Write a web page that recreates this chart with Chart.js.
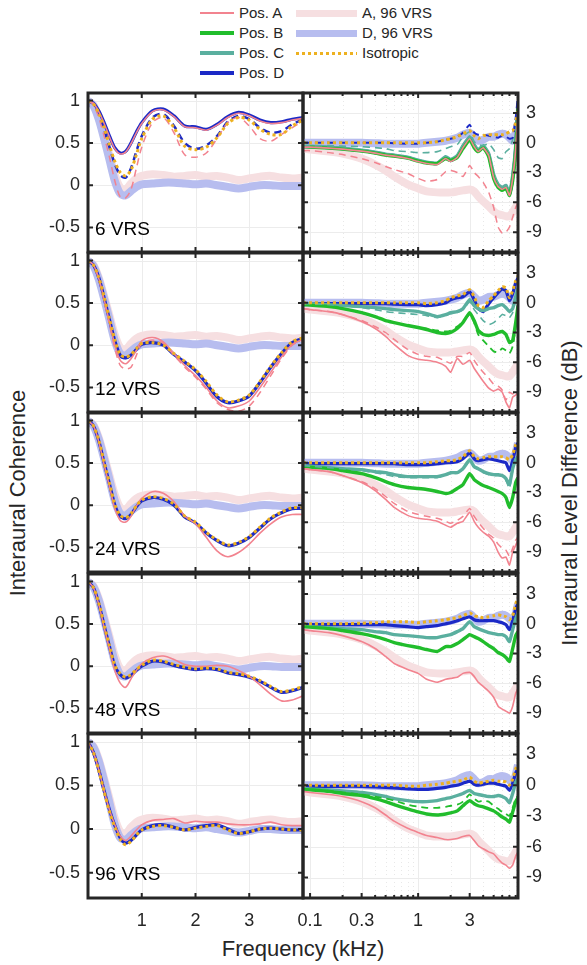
<!DOCTYPE html>
<html>
<head>
<meta charset="utf-8">
<script src="https://cdn.jsdelivr.net/npm/chart.js@4.4.1/dist/chart.umd.min.js"></script>
<style>
  body { margin: 0; width: 587px; height: 965px; background: #fff; position: relative; overflow: hidden;
         font-family: "Liberation Sans", Arial, sans-serif; color: #262626; }
  canvas { position: absolute; }
  .lg { position: absolute; font-size: 15px; line-height: 18px; white-space: nowrap; }
  .sw { position: absolute; }
  .title { position: absolute; font-size: 22px; white-space: nowrap; }
</style>
</head>
<body>
<div id="legend"></div>
<div class="title" id="xTitle">Frequency (kHz)</div>
<div class="title" id="yLeftTitle">Interaural Coherence</div>
<div class="title" id="yRightTitle">Interaural Level Difference (dB)</div>
<script>
// ---- data ----
const rowLabels = ["6 VRS", "12 VRS", "24 VRS", "48 VRS", "96 VRS"];

// coherence panels (left), frequency in kHz
const icFreq = [0, 0.1, 0.2, 0.3, 0.4, 0.5, 0.6, 0.7, 0.8, 0.9, 1.0, 1.2, 1.4, 1.6, 1.8, 2.0, 2.2, 2.4, 2.6, 2.8, 3.0, 3.2, 3.4, 3.6, 3.8, 4.0];
const icTicksX = [1, 2, 3];
const icTicksY = [-0.5, 0, 0.5, 1];

const icA96 = [1.0, 0.95, 0.80, 0.58, 0.35, 0.12, -0.03, -0.05, 0.02, 0.08, 0.11, 0.13, 0.12, 0.10, 0.11, 0.12, 0.10, 0.11, 0.09, 0.06, 0.08, 0.10, 0.11, 0.09, 0.08, 0.09];
const icD96 = [1.0, 0.94, 0.78, 0.55, 0.30, 0.05, -0.10, -0.12, -0.07, -0.02, 0.01, 0.02, 0.03, 0.03, 0.02, 0.01, 0.02, 0.00, -0.02, -0.04, -0.02, 0.00, 0.00, -0.01, -0.01, -0.01];

const icPosD = [
  [1.0, 0.97, 0.88, 0.74, 0.58, 0.44, 0.38, 0.40, 0.50, 0.63, 0.74, 0.88, 0.90, 0.82, 0.70, 0.69, 0.66, 0.72, 0.81, 0.86, 0.83, 0.77, 0.74, 0.75, 0.78, 0.80],
  [1.0, 0.95, 0.80, 0.56, 0.30, 0.05, -0.12, -0.15, -0.12, -0.05, 0.01, 0.03, 0.0, -0.11, -0.20, -0.30, -0.45, -0.61, -0.68, -0.66, -0.60, -0.44, -0.26, -0.10, 0.03, 0.08],
  [1.0, 0.94, 0.76, 0.50, 0.25, 0.0, -0.13, -0.16, -0.11, -0.02, 0.05, 0.09, 0.07, 0.0, -0.14, -0.21, -0.33, -0.42, -0.48, -0.45, -0.38, -0.27, -0.16, -0.09, -0.04, -0.04],
  [1.0, 0.93, 0.74, 0.48, 0.23, 0.0, -0.10, -0.14, -0.11, -0.05, 0.0, 0.06, 0.05, 0.01, -0.02, -0.04, -0.03, -0.04, -0.08, -0.10, -0.13, -0.18, -0.25, -0.31, -0.29, -0.25],
  [1.0, 0.88, 0.68, 0.44, 0.22, 0.04, -0.10, -0.16, -0.13, -0.07, -0.01, 0.04, 0.05, 0.02, -0.01, 0.02, 0.04, 0.05, 0.0, -0.05, -0.03, 0.0, 0.01, 0.0, -0.01, -0.01]
];
const icPosA = [
  [1.0, 0.97, 0.87, 0.73, 0.57, 0.43, 0.37, 0.39, 0.49, 0.62, 0.73, 0.87, 0.89, 0.81, 0.69, 0.68, 0.65, 0.71, 0.80, 0.85, 0.82, 0.76, 0.73, 0.74, 0.77, 0.79],
  [1.0, 0.95, 0.79, 0.54, 0.27, 0.0, -0.18, -0.22, -0.16, -0.06, 0.05, 0.09, 0.04, -0.10, -0.24, -0.36, -0.50, -0.66, -0.74, -0.72, -0.66, -0.50, -0.32, -0.14, 0.01, 0.07],
  [1.0, 0.94, 0.75, 0.48, 0.22, -0.04, -0.18, -0.20, -0.13, -0.01, 0.08, 0.16, 0.14, 0.04, -0.13, -0.22, -0.38, -0.54, -0.61, -0.56, -0.46, -0.33, -0.22, -0.14, -0.11, -0.11],
  [1.0, 0.93, 0.73, 0.46, 0.20, -0.05, -0.20, -0.25, -0.15, -0.05, 0.03, 0.10, 0.12, 0.08, 0.02, 0.0, 0.0, 0.01, 0.0, -0.05, -0.12, -0.22, -0.33, -0.41, -0.40, -0.35],
  [1.0, 0.88, 0.68, 0.44, 0.22, 0.05, -0.08, -0.13, -0.08, -0.01, 0.05, 0.10, 0.11, 0.12, 0.07, 0.09, 0.08, 0.08, 0.06, 0.05, 0.05, 0.06, 0.08, 0.05, 0.04, 0.04]
];
const icIso = [
  [1.0, 0.96, 0.85, 0.68, 0.47, 0.28, 0.15, 0.11, 0.18, 0.36, 0.55, 0.78, 0.82, 0.68, 0.46, 0.42, 0.45, 0.56, 0.73, 0.80, 0.77, 0.66, 0.60, 0.60, 0.70, 0.77],
  [1.0, 0.95, 0.80, 0.57, 0.31, 0.06, -0.11, -0.14, -0.11, -0.04, 0.02, 0.03, 0.0, -0.10, -0.19, -0.29, -0.43, -0.59, -0.67, -0.65, -0.59, -0.43, -0.25, -0.09, 0.04, 0.09],
  [1.0, 0.94, 0.77, 0.51, 0.26, 0.01, -0.12, -0.15, -0.10, -0.01, 0.06, 0.10, 0.08, 0.01, -0.13, -0.20, -0.32, -0.41, -0.47, -0.44, -0.37, -0.26, -0.15, -0.08, -0.03, -0.03],
  [1.0, 0.93, 0.75, 0.49, 0.24, 0.01, -0.09, -0.13, -0.10, -0.04, 0.01, 0.07, 0.06, 0.02, -0.01, -0.03, -0.02, -0.03, -0.07, -0.09, -0.12, -0.17, -0.24, -0.30, -0.28, -0.24],
  [1.0, 0.88, 0.67, 0.43, 0.20, 0.02, -0.12, -0.18, -0.14, -0.07, -0.01, 0.03, 0.04, 0.02, -0.01, 0.01, 0.03, 0.04, -0.01, -0.05, -0.03, 0.0, 0.01, 0.0, -0.01, -0.01]
];
const icPosADash = [
  [1.0, 0.95, 0.80, 0.58, 0.33, 0.05, -0.14, -0.15, -0.05, 0.20, 0.45, 0.74, 0.80, 0.62, 0.36, 0.33, 0.38, 0.55, 0.74, 0.80, 0.70, 0.55, 0.52, 0.60, 0.68, 0.76],
  [1.0, 0.95, 0.78, 0.52, 0.24, -0.04, -0.24, -0.28, -0.26, -0.12, 0.02, 0.06, 0.02, -0.12, -0.26, -0.38, -0.52, -0.68, -0.76, -0.78, -0.72, -0.56, -0.36, -0.16, 0.0, 0.06],
  null, null, null
];
const icPosDDash = [
  [1.0, 0.96, 0.84, 0.66, 0.45, 0.25, 0.12, 0.09, 0.20, 0.40, 0.58, 0.80, 0.84, 0.70, 0.50, 0.43, 0.47, 0.58, 0.75, 0.82, 0.78, 0.68, 0.62, 0.64, 0.72, 0.78],
  null, null, null, null
];

// level difference panels (right), frequency in kHz, values in dB
const ildFreq = [0.086, 0.1, 0.15, 0.2, 0.3, 0.4, 0.5, 0.6, 0.8, 1, 1.2, 1.5, 1.8, 2, 2.3, 2.6, 3, 3.3, 3.6, 4, 4.5, 5, 5.5, 6, 6.5, 7, 7.5, 8, 8.4];
const ildTicksX = [0.1, 0.3, 1, 3];
const ildMinorX = [0.2, 0.4, 0.5, 0.6, 0.7, 0.8, 0.9, 2, 4, 5, 6, 7, 8];
const ildTicksY = [-9, -6, -3, 0, 3];

const ildA96 = [-0.6, -0.7, -0.9, -1.1, -1.6, -2.2, -2.8, -3.4, -4.2, -4.6, -4.9, -5.0, -5.0, -5.0, -4.9, -4.8, -4.7, -4.9, -5.4, -5.9, -6.4, -6.9, -7.2, -7.3, -7.4, -7.4, -7.0, -6.5, -6.2];
const ildD96 = [0, 0, 0, 0, 0, -0.05, -0.1, -0.1, -0.1, -0.1, 0, 0.1, 0.2, 0.3, 0.5, 0.8, 1.0, 0.6, 0.2, 0.3, 0.6, 0.6, 0.8, 0.9, 0.8, 0.5, 0.2, 1.0, 2.0];

const ildPosD = [
  [-0.4, -0.4, -0.5, -0.6, -0.8, -1.0, -1.2, -1.3, -1.5, -1.8, -2.0, -2.1, -1.5, -1.8, -1.4, -0.4, 0.5, -0.3, -0.8, -0.4, -1.2, -3.4, -4.3, -4.6, -4.4, -5.2, -3.5, -0.5, 3.8],
  [-0.1, -0.1, -0.1, -0.1, -0.1, -0.1, -0.1, -0.15, -0.2, -0.2, -0.3, -0.2, 0, 0.3, 0.5, 0.6, 1.1, 0.3, -0.6, -0.9, -0.1, 0.5, 1.0, 1.4, 1.2, 0.2, 0.9, 2.0, 2.5],
  [-0.1, -0.1, -0.1, -0.1, -0.1, -0.1, -0.1, -0.1, -0.2, -0.2, -0.2, -0.1, 0, 0, 0.1, 0.4, 1.0, 0.4, 0.2, 0.3, 0.4, 0.3, 0.2, 0.1, 0, -0.8, 0.2, 1.5, 2.0],
  [-0.1, -0.1, -0.1, -0.1, -0.1, -0.1, -0.1, -0.2, -0.3, -0.4, -0.3, -0.2, 0, 0.1, 0.3, 0.5, 0.7, 0.4, 0.3, 0.3, 0.3, 0.3, 0.2, 0.1, -0.1, -0.6, 0.3, 1.5, 2.0],
  [-0.1, -0.1, -0.1, -0.1, -0.1, -0.15, -0.2, -0.25, -0.35, -0.4, -0.4, -0.3, -0.2, -0.1, 0, 0.2, 0.4, 0.1, 0, 0.1, 0.2, 0.2, 0.1, 0, -0.1, -0.5, 0.2, 1.2, 1.6]
];
const ildIso = [
  [0, 0, 0, 0, 0, 0, 0, 0, 0, 0, 0, 0.1, 0.3, 0.4, 0.6, 0.9, 1.2, 0.7, 0.4, 0.7, 0.8, 0.8, 0.8, 0.8, 0.9, 1.1, 1.2, 2.0, 3.5],
  [0, 0, 0, 0, 0, 0, 0, 0, 0, 0, -0.1, 0, 0.2, 0.5, 0.7, 0.8, 1.3, 0.6, -0.3, -0.5, 0.2, 0.7, 1.2, 1.6, 1.5, 0.5, 1.2, 2.2, 2.7],
  [0, 0, 0, 0, 0, 0, 0, 0, 0, 0, 0, 0.1, 0.2, 0.2, 0.3, 0.6, 1.2, 0.6, 0.4, 0.5, 0.6, 0.6, 0.6, 0.6, 0.5, 0.3, 0.8, 1.8, 2.2],
  [0, 0, 0, 0, 0.05, 0.1, 0.2, 0.2, 0.2, 0.1, 0.2, 0.3, 0.4, 0.5, 0.6, 0.8, 1.1, 0.8, 0.7, 0.6, 0.7, 0.8, 0.9, 0.8, 0.7, 0.4, 0.8, 2.0, 2.6],
  [0, 0, 0, 0, 0, 0, 0, 0, -0.1, -0.1, 0, 0.1, 0.2, 0.3, 0.4, 0.5, 0.8, 0.4, 0.2, 0.3, 0.4, 0.5, 0.4, 0.4, 0.3, 0, 0.6, 1.6, 2.0]
];
const ildPosC = [
  [-0.35, -0.35, -0.45, -0.55, -0.75, -0.95, -1.15, -1.25, -1.45, -1.75, -1.95, -2.05, -1.4, -1.7, -1.3, -0.3, 0.6, -0.2, -0.7, -0.3, -1.1, -3.2, -4.2, -4.5, -4.3, -5.1, -3.3, -0.3, 4.0],
  [-0.1, -0.1, -0.2, -0.3, -0.4, -0.5, -0.6, -0.7, -0.8, -0.9, -1.1, -1.4, -1.2, -1.0, -0.9, -0.6, 0.3, -0.3, -0.6, -0.8, -0.6, -0.5, -0.3, -0.2, -0.5, -0.9, -0.6, 0.6, 1.5],
  [-0.3, -0.35, -0.5, -0.6, -0.7, -0.9, -1.0, -1.2, -1.4, -1.4, -1.4, -1.4, -1.2, -1.0, -1.0, -0.6, 0.3, -0.4, -0.6, -0.9, -1.1, -1.2, -1.2, -1.3, -1.6, -2.2, -0.6, 0.3, 0.6],
  [-0.3, -0.3, -0.4, -0.5, -0.6, -0.8, -0.9, -1.1, -1.2, -1.3, -1.4, -1.4, -1.2, -1.1, -0.8, -0.5, 0.2, -0.3, -0.5, -0.7, -0.9, -1.0, -1.1, -1.1, -1.3, -1.8, -0.6, 0.5, 1.0],
  [-0.3, -0.35, -0.45, -0.55, -0.7, -0.9, -1.1, -1.3, -1.5, -1.6, -1.6, -1.5, -1.3, -1.2, -1.0, -0.8, -0.5, -0.8, -0.9, -1.0, -1.1, -1.1, -1.0, -1.1, -1.3, -1.7, -0.8, 0.3, 0.6]
];
const ildPosB = [
  [-0.4, -0.45, -0.55, -0.65, -0.85, -1.05, -1.25, -1.35, -1.55, -1.85, -2.05, -2.1, -1.6, -1.8, -1.5, -0.6, 0.3, -0.5, -0.9, -0.5, -1.4, -3.6, -4.5, -4.8, -4.6, -5.3, -3.8, -0.8, 3.5],
  [-0.2, -0.25, -0.4, -0.6, -1.0, -1.4, -1.8, -2.0, -2.3, -2.5, -2.7, -3.0, -3.1, -3.0, -2.6, -2.0, -1.0, -1.8, -2.8, -3.2, -3.3, -3.2, -3.0, -2.9, -3.2, -4.0, -3.8, -2.0, -0.3],
  [-0.4, -0.45, -0.6, -0.8, -1.1, -1.5, -1.9, -2.2, -2.5, -2.6, -2.7, -2.9, -3.1, -3.0, -2.6, -2.2, -1.1, -1.7, -2.0, -2.3, -2.5, -2.7, -2.9, -3.1, -3.5, -4.5, -3.5, -2.0, -1.5],
  [-0.3, -0.35, -0.5, -0.7, -1.0, -1.3, -1.6, -1.9, -2.2, -2.4, -2.6, -2.8, -2.3, -2.3, -2.0, -1.6, -1.1, -1.3, -1.5, -1.8, -2.2, -2.5, -2.9, -3.1, -3.4, -3.8, -2.5, -1.2, -0.8],
  [-0.4, -0.45, -0.6, -0.8, -1.0, -1.3, -1.6, -1.9, -2.3, -2.6, -2.8, -2.9, -2.8, -2.7, -2.5, -2.0, -1.5, -1.8, -2.0, -2.1, -2.3, -2.5, -2.8, -3.1, -3.3, -3.6, -2.6, -1.6, -1.2]
];
const ildPosA = [
  [-0.45, -0.45, -0.55, -0.65, -0.85, -1.05, -1.25, -1.35, -1.6, -1.9, -2.1, -2.2, -1.6, -1.9, -1.5, -0.5, 0.4, -0.4, -0.9, -0.5, -1.3, -3.5, -4.4, -4.7, -4.5, -5.3, -3.6, -0.6, 3.6],
  [-0.6, -0.7, -0.9, -1.2, -1.9, -2.6, -3.4, -4.2, -5.3, -5.7, -5.8, -6.0, -6.4, -7.0, -5.6, -6.2, -5.8, -6.6, -7.2, -7.9, -8.6, -8.9, -8.7, -9.0, -10.0, -10.6, -9.5, -9.3, -9.0],
  [-0.6, -0.7, -0.9, -1.3, -2.0, -2.8, -3.7, -4.5, -5.3, -5.6, -5.7, -5.9, -6.3, -6.5, -6.1, -5.9, -5.0, -5.9, -6.5, -7.0, -7.4, -8.0, -9.0, -9.6, -9.5, -10.3, -9.0, -8.3, -7.8],
  [-0.6, -0.7, -0.9, -1.2, -1.8, -2.5, -3.3, -4.0, -4.6, -5.0, -5.6, -5.9, -5.6, -5.5, -5.4, -5.0, -4.9, -5.3, -5.9, -6.3, -6.8, -7.4, -8.3, -8.6, -8.8, -9.0, -8.3, -7.0, -6.5],
  [-0.6, -0.7, -0.9, -1.1, -1.6, -2.2, -2.9, -3.5, -4.2, -4.6, -4.9, -5.1, -5.3, -5.3, -5.2, -5.0, -4.9, -5.4, -5.9, -6.2, -6.5, -6.7, -7.2, -7.6, -7.8, -8.1, -7.8, -6.9, -6.5]
];
const ildPosADash = [
  [-0.8, -0.8, -1.0, -1.2, -1.6, -2.0, -2.4, -2.7, -3.1, -3.6, -3.9, -3.7, -2.9, -2.8, -3.0, -3.4, -2.3, -3.0, -3.4, -4.0, -5.0, -6.5, -8.5, -9.1, -9.0, -8.5, -7.5, -6.5, -6.0],
  [-0.6, -0.7, -0.9, -1.2, -1.8, -2.4, -3.0, -3.7, -4.7, -5.2, -5.4, -5.5, -5.9, -6.1, -5.4, -5.4, -5.0, -5.8, -6.4, -7.0, -7.6, -8.2, -8.4, -8.8, -9.8, -9.0, -9.2, -8.8, -8.6],
  [-0.6, -0.7, -0.9, -1.3, -1.9, -2.6, -3.4, -4.1, -4.9, -5.2, -5.4, -5.6, -5.9, -6.1, -5.8, -5.4, -4.6, -5.4, -6.0, -6.6, -7.2, -7.6, -8.2, -8.6, -8.8, -9.4, -8.6, -7.8, -7.5],
  null, null
];
const ildPosBDash = [
  null,
  [-0.2, -0.25, -0.4, -0.6, -1.0, -1.4, -1.8, -2.0, -2.3, -2.5, -2.6, -2.8, -2.9, -2.8, -2.4, -1.9, -1.2, -2.0, -3.2, -3.8, -4.4, -4.9, -5.0, -4.6, -4.8, -5.1, -4.4, -2.5, -1.0],
  null, null,
  [-0.4, -0.45, -0.55, -0.7, -0.9, -1.1, -1.3, -1.5, -1.9, -2.1, -2.2, -2.2, -2.1, -2.0, -1.9, -1.6, -0.9, -1.3, -1.6, -1.5, -1.6, -2.0, -2.3, -2.6, -2.8, -3.0, -2.2, -1.3, -1.0]
];
const ildPosCDash = [
  [-0.3, -0.3, -0.3, -0.35, -0.4, -0.5, -0.6, -0.8, -0.9, -1.0, -1.0, -0.9, -0.6, -0.4, -0.2, 0.6, 1.1, 0.1, -0.2, -0.3, -0.1, -0.7, -1.5, -1.6, -0.9, -0.6, 0.3, 1.5, 3.0],
  [-0.1, -0.1, -0.2, -0.3, -0.5, -0.7, -0.9, -1.0, -1.1, -1.2, -1.3, -1.5, -1.3, -1.1, -1.0, -0.7, 0.1, -0.7, -1.2, -1.8, -2.2, -2.0, -1.6, -1.2, -1.3, -1.5, -1.0, 0.3, 1.2],
  [-0.3, -0.35, -0.5, -0.6, -0.8, -1.0, -1.2, -1.4, -1.5, -1.5, -1.5, -1.5, -1.3, -1.1, -1.0, -0.7, 0.2, -0.5, -0.7, -1.0, -1.2, -1.3, -1.3, -1.4, -1.8, -2.6, -0.8, 0.2, 0.5],
  null, null
];
const ildPosDDash = [
  [0, 0, 0, 0, 0, 0, 0, -0.05, -0.1, -0.1, 0, 0.1, 0.3, 0.4, 0.6, 1.0, 1.8, 1.0, 0.8, 0.8, 0.7, 0.6, 0.5, 0.7, 0.6, 0.4, 0.5, 2.5, 4.8],
  null, null, null, null
];

// ---- styles ----
const colA = "#f2838f", colB = "#21bd2c", colC = "#5aaf9f", colD = "#1b29c6";
const colIso = "#edb120", colA96 = "#f6dfe1", colD96 = "#b7bdef";
const axisColor = "#262626";
const tickFont = { family: "Liberation Sans", size: 18 };

const panelTop = i => Math.round(93 + 160.2 * i);
const panelH = 159;

// legend (html)
const legendItems = [
  { text: "Pos. A", x: 200, w: 34, row: 0, color: colA, h: 2 },
  { text: "Pos. B", x: 200, w: 34, row: 1, color: colB, h: 4 },
  { text: "Pos. C", x: 200, w: 34, row: 2, color: colC, h: 4 },
  { text: "Pos. D", x: 200, w: 34, row: 3, color: colD, h: 4 },
  { text: "A, 96 VRS", x: 296, w: 61, row: 0, color: colA96, h: 7 },
  { text: "D, 96 VRS", x: 296, w: 61, row: 1, color: colD96, h: 7 },
  { text: "Isotropic", x: 296, w: 61, row: 2, color: colIso, h: 3, dotted: true }
];
const legend = document.getElementById("legend");
legendItems.forEach(it => {
  const cy = 13 + it.row * 20;
  const sw = document.createElement("div");
  sw.className = "sw";
  sw.style.left = it.x + "px";
  sw.style.top = (cy - it.h / 2) + "px";
  sw.style.width = it.w + "px";
  sw.style.height = it.h + "px";
  sw.style.background = it.dotted
    ? "repeating-linear-gradient(90deg," + it.color + " 0 3px, transparent 3px 6px)"
    : it.color;
  legend.appendChild(sw);
  const tx = document.createElement("div");
  tx.className = "lg";
  tx.textContent = it.text;
  tx.style.left = (it.x + it.w + 5) + "px";
  tx.style.top = (cy - 9) + "px";
  legend.appendChild(tx);
});

const xt = document.getElementById("xTitle");
xt.style.left = "303px"; xt.style.top = "936px"; xt.style.transform = "translateX(-50%)";
const yl = document.getElementById("yLeftTitle");
yl.style.left = "18px"; yl.style.top = "493px"; yl.style.transform = "translate(-50%,-50%) rotate(-90deg)";
const yr = document.getElementById("yRightTitle");
yr.style.left = "570px"; yr.style.top = "493px"; yr.style.transform = "translate(-50%,-50%) rotate(-90deg)";

// grid, inward ticks, box and row label
const panelPlugin = {
  id: "panel",
  beforeDatasetsDraw(chart, args, o) {
    const { ctx, chartArea: a, scales: { x, y } } = chart;
    ctx.save();
    ctx.lineWidth = 1;
    ctx.strokeStyle = "#e8e8e8";
    ctx.setLineDash([1, 3]);
    (o.minorX || []).forEach(v => {
      const px = Math.round(x.getPixelForValue(v)) + 0.5;
      ctx.beginPath(); ctx.moveTo(px, a.top); ctx.lineTo(px, a.bottom); ctx.stroke();
    });
    ctx.setLineDash([]);
    ctx.strokeStyle = "#ececec";
    o.gridX.forEach(v => {
      const px = Math.round(x.getPixelForValue(v)) + 0.5;
      ctx.beginPath(); ctx.moveTo(px, a.top); ctx.lineTo(px, a.bottom); ctx.stroke();
    });
    o.gridY.forEach(v => {
      const py = Math.round(y.getPixelForValue(v)) + 0.5;
      ctx.beginPath(); ctx.moveTo(a.left, py); ctx.lineTo(a.right, py); ctx.stroke();
    });
    ctx.restore();
  },
  afterDatasetsDraw(chart, args, o) {
    const { ctx, chartArea: a, scales: { x, y } } = chart;
    ctx.save();
    ctx.strokeStyle = axisColor;
    ctx.lineWidth = 2;
    const tickX = (v, len) => {
      const px = x.getPixelForValue(v);
      ctx.beginPath();
      ctx.moveTo(px, a.bottom); ctx.lineTo(px, a.bottom - len);
      ctx.moveTo(px, a.top); ctx.lineTo(px, a.top + len);
      ctx.stroke();
    };
    o.gridX.forEach(v => tickX(v, 5));
    (o.minorX || []).forEach(v => tickX(v, 3));
    o.gridY.forEach(v => {
      const py = y.getPixelForValue(v);
      ctx.beginPath();
      ctx.moveTo(a.left, py); ctx.lineTo(a.left + 5, py);
      ctx.moveTo(a.right, py); ctx.lineTo(a.right - 5, py);
      ctx.stroke();
    });
    ctx.lineWidth = 3;
    ctx.strokeRect(a.left, a.top, a.right - a.left, a.bottom - a.top);
    if (o.label) {
      ctx.fillStyle = "#000";
      ctx.font = '19px "Liberation Sans"';
      ctx.textBaseline = "middle";
      ctx.fillText(o.label, a.left + 7, y.getPixelForValue(-0.5) + 2);
    }
    ctx.restore();
  }
};

function series(freq, vals) {
  return vals.map((v, i) => ({ x: freq[i], y: v }));
}
function line(label, freq, vals, color, width, dash, order, tension) {
  return {
    label, data: series(freq, vals), borderColor: color, backgroundColor: color,
    borderWidth: width, borderDash: dash || [], pointRadius: 0, tension, order, fill: false
  };
}

function coherenceSets(r) {
  const f = icFreq, t = 0.3, sets = [];
  sets.push(line("A, 96 VRS", f, icA96, colA96, 8, null, 9, t));
  sets.push(line("D, 96 VRS", f, icD96, colD96, 8, null, 8, t));
  sets.push(line("Pos. D", f, icPosD[r], colD, 3.2, null, 6, t));
  if (icPosDDash[r]) sets.push(line("Pos. D (dashed)", f, icPosDDash[r], colD, 2.5, [7, 5], 4, t));
  if (icPosADash[r]) sets.push(line("Pos. A (dashed)", f, icPosADash[r], colA, 1.5, [7, 5], 3, t));
  sets.push(line("Pos. A", f, icPosA[r], colA, 1.6, null, 2, t));
  sets.push(line("Isotropic", f, icIso[r], colIso, 3, [3, 3], 1, t));
  return sets;
}
function ildSets(r) {
  const f = ildFreq, t = 0.15, sets = [];
  sets.push(line("A, 96 VRS", f, ildA96, colA96, 8, null, 12, t));
  sets.push(line("D, 96 VRS", f, ildD96, colD96, 8, null, 11, t));
  sets.push(line("Pos. D", f, ildPosD[r], colD, 3.2, null, 8, t));
  sets.push(line("Pos. C", f, ildPosC[r], colC, 3.4, null, 7, t));
  sets.push(line("Pos. B", f, ildPosB[r], colB, 3.4, null, 6, t));
  if (ildPosDDash[r]) sets.push(line("Pos. D (dashed)", f, ildPosDDash[r], colD, 2, [7, 5], 5, t));
  if (ildPosCDash[r]) sets.push(line("Pos. C (dashed)", f, ildPosCDash[r], colC, 1.6, [7, 5], 5, t));
  if (ildPosBDash[r]) sets.push(line("Pos. B (dashed)", f, ildPosBDash[r], colB, 1.8, [7, 5], 5, t));
  if (ildPosADash[r]) sets.push(line("Pos. A (dashed)", f, ildPosADash[r], colA, 1.5, [7, 5], 4, t));
  sets.push(line("Pos. A", f, ildPosA[r], colA, 1.6, null, 2, t));
  sets.push(line("Isotropic", f, ildIso[r], colIso, 3, [3, 3], 1, t));
  return sets;
}

function makeCanvas(left, top, w, h) {
  const c = document.createElement("canvas");
  c.width = w; c.height = h;
  c.style.left = left + "px"; c.style.top = top + "px";
  c.style.width = w + "px"; c.style.height = h + "px";
  document.body.appendChild(c);
  return c;
}

function fixedTicks(list) {
  return axis => { axis.ticks = list.map(v => ({ value: v })); };
}
// fixed axis sizes, no extra room for overhanging labels
function fitX(h) {
  return s => { s.height = h; s.paddingLeft = 0; s.paddingRight = 0; s.paddingTop = 0; s.paddingBottom = 0; };
}
function fitY(w) {
  return s => { s.width = w; s.paddingLeft = 0; s.paddingRight = 0; s.paddingTop = 0; s.paddingBottom = 0; };
}

rowLabels.forEach((label, r) => {
  const top = panelTop(r);
  const last = r === rowLabels.length - 1;
  const extra = last ? 34 : 0;

  // coherence panel
  const cL = makeCanvas(20, top - 5, 288, panelH + 10 + extra);
  new Chart(cL, {
    type: "line",
    data: { datasets: coherenceSets(r) },
    options: {
      responsive: false, animation: false, devicePixelRatio: 1,
      layout: { padding: { top: 5, right: 5, bottom: last ? 0 : 5, left: 0 } },
      plugins: {
        legend: { display: false }, tooltip: { enabled: false },
        panel: { gridX: icTicksX, gridY: icTicksY, minorX: [], label }
      },
      scales: {
        x: {
          type: "linear", min: 0, max: 4,
          afterBuildTicks: fixedTicks(icTicksX),
          afterFit: fitX(last ? 34 : 0),
          grid: { display: false, drawTicks: false }, border: { display: false },
          ticks: { display: last, padding: 12, font: tickFont, color: axisColor, autoSkip: false, maxRotation: 0, callback: v => String(v) }
        },
        y: {
          type: "linear", position: "left", min: -0.79, max: 1.09,
          afterBuildTicks: fixedTicks(icTicksY),
          afterFit: fitY(68),
          grid: { display: false, drawTicks: false }, border: { display: false },
          ticks: { padding: 8, font: tickFont, color: axisColor, autoSkip: false, callback: v => String(v) }
        }
      }
    },
    plugins: [panelPlugin]
  });

  // level difference panel
  const cR = makeCanvas(298, top - 5, 272, panelH + 10 + extra);
  new Chart(cR, {
    type: "line",
    data: { datasets: ildSets(r) },
    options: {
      responsive: false, animation: false, devicePixelRatio: 1,
      layout: { padding: { top: 5, right: 0, bottom: last ? 0 : 5, left: 5 } },
      plugins: {
        legend: { display: false }, tooltip: { enabled: false },
        panel: { gridX: ildTicksX, gridY: ildTicksY, minorX: ildMinorX, label: null }
      },
      scales: {
        x: {
          type: "logarithmic", min: 0.086, max: 8.4,
          afterBuildTicks: fixedTicks(ildTicksX),
          afterFit: fitX(last ? 34 : 0),
          grid: { display: false, drawTicks: false }, border: { display: false },
          ticks: { display: last, padding: 12, font: tickFont, color: axisColor, autoSkip: false, maxRotation: 0, callback: v => String(v) }
        },
        y: {
          type: "linear", position: "right", min: -11, max: 5,
          afterBuildTicks: fixedTicks(ildTicksY),
          afterFit: fitY(52),
          grid: { display: false, drawTicks: false }, border: { display: false },
          ticks: { padding: 8, font: tickFont, color: axisColor, autoSkip: false, callback: v => String(v) }
        }
      }
    },
    plugins: [panelPlugin]
  });
});
</script>
</body>
</html>
